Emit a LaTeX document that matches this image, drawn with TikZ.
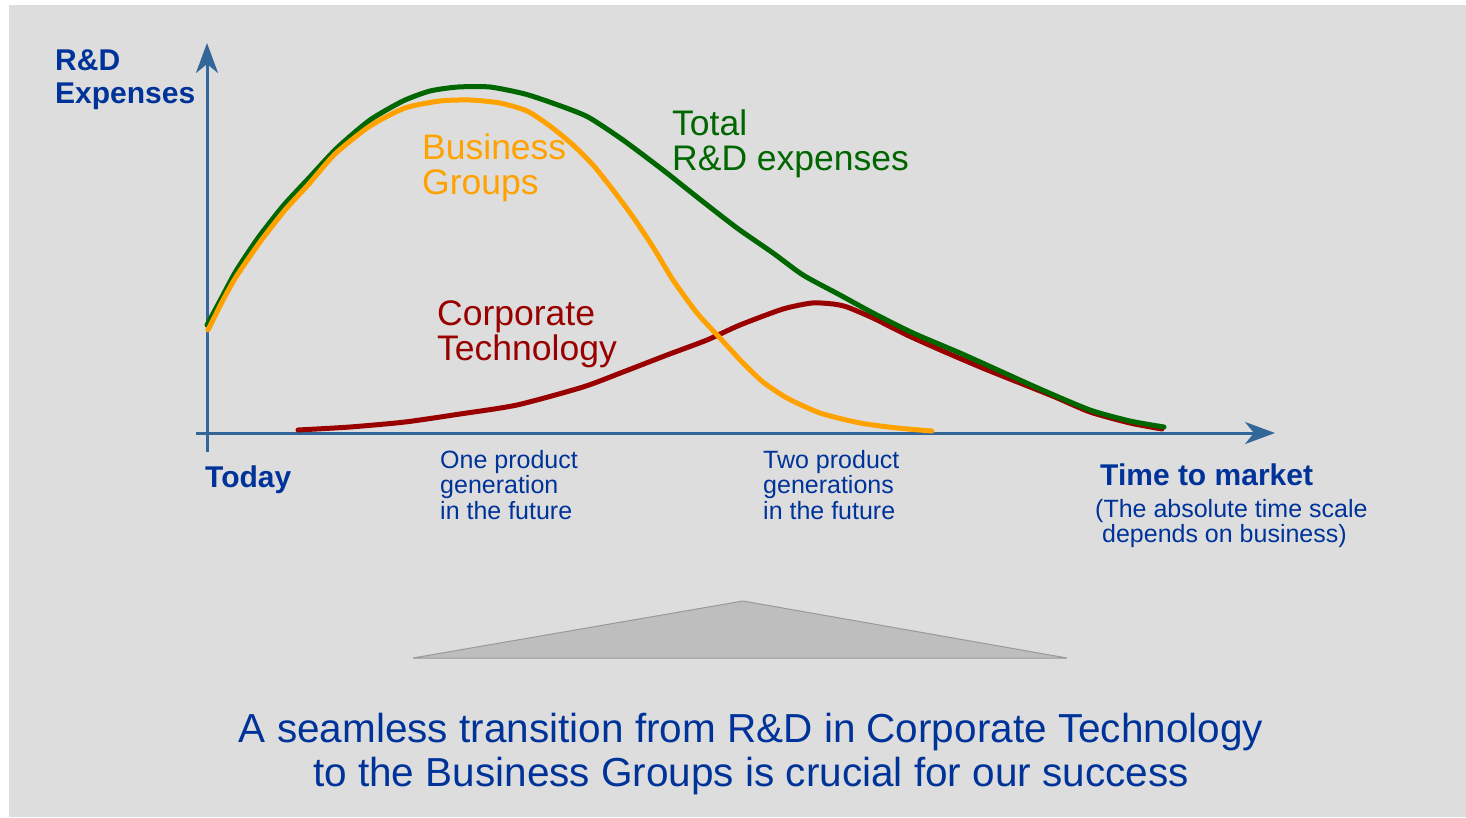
\documentclass[tikz,border=0pt]{standalone}
\usepackage{fontspec}
\setmainfont{Liberation Sans}
\usetikzlibrary{arrows.meta}
\definecolor{bgGray}{HTML}{DDDDDD}
\definecolor{axisBlue}{HTML}{336699}
\definecolor{textBlue}{HTML}{003399}
\definecolor{totGreen}{HTML}{006600}
\definecolor{bgOrange}{HTML}{FFA200}
\definecolor{ctRed}{HTML}{990000}
\definecolor{triGray}{HTML}{BEBEBE}
\definecolor{triEdge}{HTML}{999999}

\begin{document}
\begin{tikzpicture}[x=1pt, y=-1pt,
    axis/.style={line width=3pt, axisBlue, -{Stealth[length=30pt, width=22pt, inset=9pt]}},
    curve/.style={line width=5pt, line cap=round, line join=round},
    lbl/.style={inner sep=0pt, anchor=base west, align=left},
    boldlbl/.style={lbl, text=textBlue, font=\fontsize{30pt}{33pt}\selectfont\bfseries},
    smalllbl/.style={lbl, text=textBlue, font=\fontsize{25pt}{25.5pt}\selectfont},
    curvelbl/.style={lbl, font=\fontsize{35.5pt}{34.5pt}\selectfont}]
    \useasboundingbox (0,0) rectangle (1466,817);
    \fill[bgGray] (9,5) rectangle (1466,817);

    % Axes
    \coordinate (ybot) at (207,452);
    \coordinate (ytop) at (207,43);
    \coordinate (xbeg) at (196,433);
    \coordinate (xend) at (1275,433);
    \draw[axis] (ybot) -- (ytop);
    \draw[axis] (xbeg) -- (xend);

    % Corporate Technology
    \draw[curve, ctRed] plot[smooth, tension=0.4] coordinates {(298,430) (350,427) (405,422) (460,414) (517,405) (583,387) (623,372) (667,355) (707,340) (740,325) (783,309) (812,303) (833,304) (847,307) (873,318) (907,335) (945,352) (985,369) (1020,383) (1055,397) (1090,412) (1130,423) (1162,429)};

    % Total
    \draw[curve, totGreen] plot[smooth, tension=0.4] coordinates {(207,325) (222,297) (236,271) (258,238) (283,206) (308,179) (337,148) (370,120) (403,101) (430,91) (458,87) (490,87) (525,94) (558,105) (588,117) (623,140) (663,170) (697,197) (737,228) (773,253) (803,275) (840,295) (873,313) (913,333) (960,353) (1000,371) (1040,389) (1090,410) (1130,421) (1164,427)};

    % Business Groups
    \draw[curve, bgOrange] plot[smooth, tension=0.4] coordinates {(208,330) (222,302) (236,277) (260,242) (285,210) (308,185) (335,154) (370,126) (405,108) (440,101) (470,100) (500,103) (527,111) (550,126) (573,145) (593,165) (613,190) (633,217) (653,247) (673,280) (697,313) (720,338) (743,363) (763,382) (787,398) (820,413) (860,423) (897,428) (932,431)};

    % Labels (base = last line)
    \node[boldlbl] (yname) at (55,103) {R\&D\\Expenses};
    \node[boldlbl] (today) at (205,487) {Today};
    \node[boldlbl] (xname) at (1100,485) {Time to market};
    \node[smalllbl] (scale) at (1095,542.5) {(The absolute time scale\\\ depends on business)};
    \node[smalllbl] (gen1) at (440,519) {One product\\generation\\in the future};
    \node[smalllbl] (gen2) at (763,519) {Two product\\generations\\in the future};
    \node[curvelbl, text=totGreen] (total) at (672,170) {Total\\R\&D expenses};
    \node[curvelbl, text=bgOrange] (bgroups) at (422,194) {Business\\Groups};
    \node[curvelbl, text=ctRed] (ctech) at (437,360) {Corporate\\Technology};

    % Triangle
    \draw[triEdge, fill=triGray, line width=1pt] (413,658) -- (743,601) -- (1067,658) -- cycle;

    \node[inner sep=0pt, anchor=base, align=center, text=textBlue, font=\fontsize{40.5pt}{44pt}\selectfont] (msg) at (751,786) {A seamless transition from R\&D in Corporate Technology\\to the Business Groups is crucial for our success};
\end{tikzpicture}
\end{document}
